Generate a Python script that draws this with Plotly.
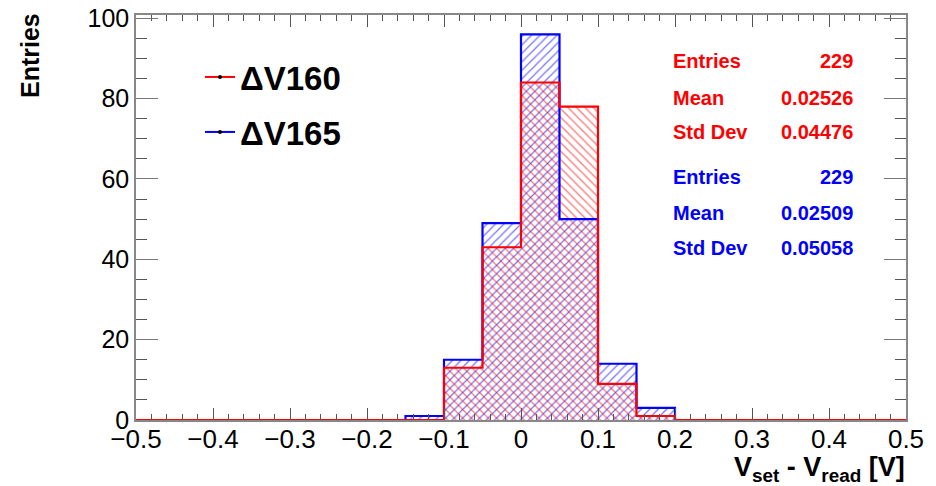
import plotly.graph_objects as go

# ---- data ----
bin_edges = [round(-0.5 + 0.05 * i, 2) for i in range(21)]
counts_160 = [0, 0, 0, 0, 0, 0, 0, 0, 13, 43, 84, 78, 9, 1, 0, 0, 0, 0, 0, 0]
counts_165 = [0, 0, 0, 0, 0, 0, 0, 1, 15, 49, 96, 50, 14, 3, 0, 0, 0, 0, 0, 0]
stats_160 = [("Entries", "229"), ("Mean", "0.02526"), ("Std Dev", "0.04476")]
stats_165 = [("Entries", "229"), ("Mean", "0.02509"), ("Std Dev", "0.05058")]
names = ["\u0394V160", "\u0394V165"]

RED = "#ff0000"
BLUE = "#0000ff"
centers = [(bin_edges[i] + bin_edges[i + 1]) / 2 for i in range(20)]

fig = go.Figure()

def add_hist(counts, color, shape):
    fig.add_trace(go.Bar(
        x=centers, y=counts, width=0.05,
        marker=dict(color="rgba(0,0,0,0)", line=dict(width=0),
                    pattern=dict(shape=shape, fgcolor=color, bgcolor="rgba(0,0,0,0)",
                                 size=6, solidity=0.2, fgopacity=0.55)),
        showlegend=False, hoverinfo="skip"))

def add_step(counts, color):
    fig.add_trace(go.Scatter(
        x=bin_edges, y=counts + [counts[-1]], mode="lines",
        line=dict(color=color, width=2.2, shape="hv"),
        showlegend=False, hoverinfo="skip", cliponaxis=False))

add_hist(counts_165, BLUE, "/")
add_hist(counts_160, RED, "\\")
add_step(counts_165, BLUE)
add_step(counts_160, RED)

# legend entries
for nm, col, lg in [(names[0], RED, "legend"), (names[1], BLUE, "legend2")]:
    fig.add_trace(go.Scatter(
        x=[None], y=[None], mode="lines+markers", name=nm,
        line=dict(color=col, width=2), marker=dict(color="black", size=4),
        legend=lg))

L, R, T, B = 136, 30, 15, 66
W, H = 936, 486
pw, ph = W - L - R, H - T - B

def px(x):
    return (x - L) / pw

def py(y):
    return (H - B - y) / ph

annotations = []
stat_y = [61, 98, 132, 177, 213, 248]
rows = [(k, v, RED) for k, v in stats_160] + [(k, v, BLUE) for k, v in stats_165]
for (k, v, col), yy in zip(rows, stat_y):
    annotations.append(dict(x=px(671), y=py(yy), xref="paper", yref="paper", text=k,
                            showarrow=False, xanchor="left", yanchor="middle",
                            font=dict(family="Liberation Sans", size=20, color=col, weight="bold")))
    annotations.append(dict(x=px(855), y=py(yy), xref="paper", yref="paper", text=v,
                            showarrow=False, xanchor="right", yanchor="middle",
                            font=dict(family="Liberation Sans", size=20, color=col, weight="bold")))

annotations.append(dict(x=px(30), y=py(56), xref="paper", yref="paper", text="Entries",
                        textangle=-90, showarrow=False, xanchor="center", yanchor="middle",
                        font=dict(family="Liberation Sans", size=25, color="black", weight="bold")))
annotations.append(dict(x=px(907), y=py(469), xref="paper", yref="paper",
                        text="V<sub>set</sub> - V<sub>read</sub> [V]",
                        showarrow=False, xanchor="right", yanchor="middle",
                        font=dict(family="Liberation Sans", size=27, color="black", weight="bold")))

legend_common = dict(font=dict(family="Liberation Sans", size=33, color="black", weight="bold"),
                     bgcolor="rgba(0,0,0,0)", xanchor="left", yanchor="middle",
                     itemwidth=30)

fig.update_layout(
    width=W, height=H,
    margin=dict(l=L, r=R, t=T, b=B, autoexpand=False),
    paper_bgcolor="white", plot_bgcolor="white",
    barmode="overlay", bargap=0,
    annotations=annotations,
    legend=dict(x=px(200), y=py(77), **legend_common),
    legend2=dict(x=px(200), y=py(132), **legend_common),
    xaxis=dict(range=[-0.5, 0.5], tick0=-0.5, dtick=0.1, ticks="inside", ticklen=12,
               automargin=False, ticklabelstandoff=-5,
               tickcolor="#555", tickwidth=1, showline=True, linecolor="#888", linewidth=1.5,
               mirror="ticks", showgrid=False, zeroline=False,
               tickfont=dict(family="Liberation Sans", size=26, color="black"),
               minor=dict(dtick=0.02, ticks="inside", ticklen=6, tickcolor="#555", showgrid=False)),
    yaxis=dict(range=[0, 100.8], tick0=0, dtick=20, ticks="inside", ticklen=22,
               automargin=False,
               tickcolor="#777", tickwidth=1, showline=True, linecolor="#888", linewidth=1.5,
               mirror="ticks", showgrid=False, zeroline=False,
               tickfont=dict(family="Liberation Sans", size=25, color="black"),
               minor=dict(dtick=5, ticks="inside", ticklen=11, tickcolor="#555", showgrid=False)),
)

fig.write_html("out.html", config={"displayModeBar": False},
               post_script="document.body.style.margin='0';document.body.style.overflow='hidden';")
